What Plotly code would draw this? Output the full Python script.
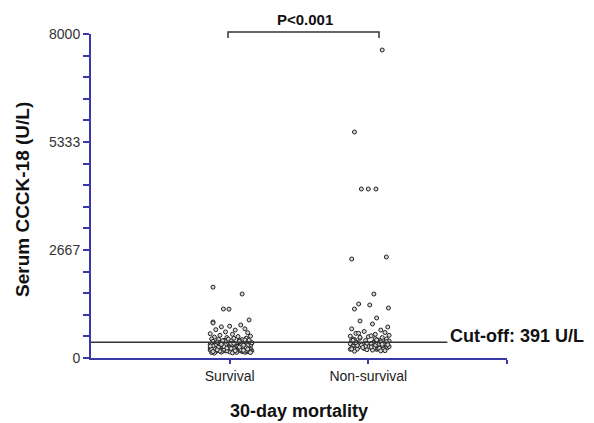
import plotly.graph_objects as go

# ---- data ----
categories = ["Survival", "Non-survival"]
cutoff = 391

survival_vals = [
    1750, 1580, 1210, 1205, 890, 940, 865, 770, 785, 815,
    700, 645, 690, 720, 600, 625, 560, 585, 540, 515,
    530, 505, 490, 472, 484, 461, 455, 442, 436, 421,
    412, 404, 398, 383, 372, 366, 352, 347, 341, 333,
    322, 318, 309, 301, 297, 288, 282, 276, 268, 262,
    257, 251, 246, 241, 236, 229, 224, 219, 214, 209,
    203, 198, 193, 188, 183, 178, 174, 169, 163, 158,
    154, 150, 327, 284, 243, 202, 361, 305, 263, 222,
    181, 343, 292, 252, 211, 172, 433, 378, 331, 271,
    232, 191, 162, 414, 356, 312, 266, 227, 186, 151,
    128, 135, 142, 147, 156, 161, 167, 176, 184, 195,
    207, 216, 226, 238, 248, 259, 272, 286, 299, 311,
    325, 338, 349, 363, 377, 392, 408, 426, 447, 468,
    122, 139, 152, 171, 189, 213, 234, 255, 279, 303,
    136, 158, 179, 201, 221, 244, 268, 294, 316, 339]
survival_jitter = [
    -0.12, 0.09, -0.045, -0.005, -0.12, 0.14, -0.12, -0.06, 0.0, 0.08,
    -0.1, -0.03, 0.04, 0.11, -0.14, 0.13, -0.07, 0.02, 0.15, -0.11,
    0.06, -0.02, 0.12, -0.13, 0.03, -0.08, 0.09, 0.14, -0.04, 0.01,
    -0.12, 0.07, -0.06, 0.11, 0.16, -0.1, 0.04, -0.02, 0.13, -0.14,
    0.08, -0.05, 0.02, -0.09, 0.15, 0.05, -0.13, 0.1, -0.01, 0.12,
    -0.07, 0.03, -0.11, 0.14, 0.06, -0.04, 0.09, -0.14, 0.0, 0.11,
    -0.08, 0.04, 0.15, -0.12, 0.07, -0.03, 0.13, -0.1, 0.02, 0.09,
    -0.06, 0.12, -0.13, 0.05, -0.09, 0.14, 0.01, -0.11, 0.08, -0.02,
    0.16, -0.07, 0.1, -0.14, 0.04, -0.05, 0.07, -0.09, 0.12, -0.12,
    0.03, -0.01, 0.1, -0.03, 0.13, -0.1, 0.06, 0.15, -0.08, 0.0,
    0.02, -0.13, 0.11, -0.06, 0.15, -0.1, 0.05, -0.02, 0.12, -0.14,
    0.08, -0.04, 0.14, -0.11, 0.0, 0.1, -0.08, 0.06, -0.12, 0.13,
    -0.03, 0.09, -0.07, 0.03, 0.16, -0.09, 0.07, -0.05, 0.11, -0.01,
    -0.11, 0.05, 0.14, -0.07, 0.1, -0.13, 0.01, 0.12, -0.04, 0.08,
    0.15, -0.12, 0.04, -0.09, 0.13, -0.02, 0.07, -0.14, 0.1, -0.06]

nonsurvival_vals = [
    7605, 5580, 4173, 4173, 4173, 2444, 2494, 1580, 1333, 1309,
    1234, 1210, 988, 914, 840, 765, 720, 690, 655, 630,
    610, 585, 560, 540, 525, 505, 488, 470, 455, 441,
    430, 418, 405, 396, 384, 373, 362, 351, 342, 333,
    324, 315, 306, 297, 289, 281, 273, 265, 257, 249,
    241, 234, 227, 219, 212, 205, 470, 395, 320, 262,
    548, 432, 356, 288, 231, 610, 452, 377, 301, 244,
    168, 182, 196, 214, 238, 259, 283, 312, 338, 366,
    402, 437, 478, 512, 176, 223, 271, 329, 381, 445]
nonsurvival_jitter = [
    0.1, -0.1, -0.05, 0.0, 0.055, -0.12, 0.13, 0.04, -0.07, 0.01,
    0.145, -0.1, 0.06, -0.06, 0.03, 0.14, -0.12, 0.09, -0.03, 0.12,
    -0.09, 0.05, 0.15, -0.13, 0.0, 0.1, -0.06, 0.13, -0.1, 0.07,
    -0.02, 0.15, -0.12, 0.04, -0.08, 0.11, 0.02, -0.13, 0.08, -0.04,
    0.14, -0.09, 0.05, -0.11, 0.1, 0.0, -0.07, 0.13, 0.03, -0.12,
    0.08, -0.03, 0.11, -0.08, 0.06, -0.01, -0.11, 0.09, -0.05, 0.14,
    0.02, -0.12, 0.12, -0.02, 0.07, -0.07, 0.05, -0.1, 0.1, 0.04,
    -0.1, 0.12, 0.03, -0.13, 0.08, -0.04, 0.15, -0.08, 0.1, -0.01,
    0.13, -0.11, 0.05, -0.06, 0.09, -0.12, 0.02, 0.14, -0.09, 0.06]

y_tick_labels = ["0", "2667", "5333", "8000"]
y_max = 8000

# ---- figure ----
FONT = "Liberation Sans, Arial, sans-serif"
BLUE = "#3838a8"
marker = dict(symbol="circle", size=4, color="#d8d8d8",
              line=dict(color="#222222", width=1))

fig = go.Figure()
fig.add_trace(go.Scatter(
    x=[1 + j for j in survival_jitter], y=survival_vals,
    mode="markers", marker=marker, showlegend=False, cliponaxis=False))
fig.add_trace(go.Scatter(
    x=[2 + j for j in nonsurvival_jitter], y=nonsurvival_vals,
    mode="markers", marker=marker, showlegend=False, cliponaxis=False))

n_minor = 15
yvals = [y_max * k / n_minor for k in range(n_minor + 1)]
ytext = []
for k in range(n_minor + 1):
    if k % 5 == 0:
        ytext.append(y_tick_labels[k // 5])
    else:
        ytext.append("")

fig.update_layout(
    width=586, height=415,
    margin=dict(l=83, r=87, t=26, b=65),
    paper_bgcolor="white", plot_bgcolor="white",
    font=dict(family=FONT, color="#333333"),
    xaxis=dict(range=[0, 3], showgrid=False, zeroline=False,
               showline=True, linecolor=BLUE, linewidth=2,
               tickmode="array", tickvals=[1, 2, 3],
               ticktext=categories + [""],
               ticks="outside", ticklen=4, tickcolor=BLUE, tickwidth=2,
               tickfont=dict(size=14, color="#222222")),
    yaxis=dict(range=[0, y_max], showgrid=False, zeroline=False,
               showline=True, linecolor=BLUE, linewidth=2,
               tickmode="array", tickvals=yvals, ticktext=ytext,
               ticks="outside", ticklen=6, tickcolor=BLUE, tickwidth=2,
               tickfont=dict(size=14, color="#333333")),
)

# cut-off line
fig.add_shape(type="line", xref="x", yref="y",
              x0=0, x1=2.57, y0=cutoff, y1=cutoff,
              line=dict(color="#333333", width=1.5))
fig.add_annotation(x=2.575, y=cutoff, xref="x", yref="y",
                   text="<b>Cut-off: %d U/L</b>" % cutoff, showarrow=False,
                   xanchor="left", yanchor="middle", yshift=6,
                   font=dict(size=18, color="#111111", family=FONT))

# significance bracket
fig.add_shape(type="path", xref="x", yref="paper",
              path="M 0.988,0.988 L 0.988,1.006 L 2.077,1.006 L 2.077,0.988",
              line=dict(color="#333333", width=1.5))
fig.add_annotation(x=1.54, y=1.006, xref="x", yref="paper",
                   text="<b>P<0.001</b>", showarrow=False,
                   xanchor="center", yanchor="bottom", yshift=2,
                   font=dict(size=15, color="#111111", family=FONT))

# axis titles
fig.add_annotation(x=1.5, y=0, xref="x", yref="paper",
                   text="<b>30-day mortality</b>", showarrow=False,
                   yanchor="middle", yshift=-53,
                   font=dict(size=18, color="#111111", family=FONT))
fig.add_annotation(x=0, y=0.5, xref="paper", yref="paper",
                   text="<b>Serum CCCK-18 (U/L)</b>", showarrow=False,
                   textangle=-90, xanchor="center", yanchor="middle",
                   xshift=-69, yshift=-4,
                   font=dict(size=19, color="#111111", family=FONT))

fig.write_html("out.html")
